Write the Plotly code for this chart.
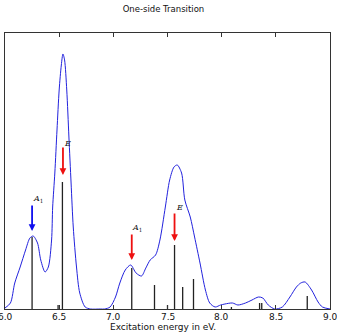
import plotly.graph_objects as go

# Broadened spectrum (energy in eV, intensity arb. units)
spec_e = [6.00, 6.05, 6.09, 6.14, 6.19, 6.23, 6.26, 6.30, 6.33, 6.37, 6.40, 6.43, 6.44,
          6.46, 6.48, 6.50, 6.52, 6.535, 6.55, 6.57, 6.59, 6.61, 6.63, 6.66, 6.69, 6.74,
          6.79, 6.88, 6.92, 6.97, 7.02, 7.06, 7.11, 7.16, 7.21, 7.26, 7.30, 7.34, 7.39,
          7.43, 7.48, 7.52, 7.56, 7.59, 7.63, 7.66, 7.71, 7.75, 7.80, 7.85, 7.89, 7.94,
          7.99, 8.03, 8.10, 8.15, 8.22, 8.28, 8.34, 8.38, 8.43, 8.49, 8.56, 8.63, 8.69,
          8.73, 8.77, 8.83, 8.89, 8.93, 9.00]
spec_i = [1, 6, 26, 42, 59, 71, 73, 66, 49, 37, 42, 69, 102,
          136, 179, 219, 244, 255, 249, 219, 172, 126, 82, 42, 16, 2,
          0, 0, 0, 2, 12, 26, 39, 44, 36, 33, 41, 49, 54,
          69, 102, 129, 142, 144, 136, 109, 92, 72, 46, 19, 6, 2,
          4, 5, 6, 4, 6, 9, 12, 11, 4, 0, 2, 12, 22,
          26, 27, 19, 7, 2, 0]

# Stick transitions
stick_e = [6.25, 6.49, 6.53, 7.17, 7.38, 7.50, 7.565, 7.64, 7.74, 8.09, 8.35, 8.37, 8.79]
stick_h = [72, 4, 127, 41, 24, 4, 64, 22, 30, 2, 6, 6, 13]

# Arrow annotations
arrow_e = [6.25, 6.535, 7.17, 7.565]
arrow_tail = [105, 163, 76, 97]
arrow_head = [78, 134, 49, 68]
arrow_color = ["#1010ee", "#ee1010", "#ee1010", "#ee1010"]
arrow_label = ["<i>A</i><sub>1</sub>", "<i>E</i>", "<i>A</i><sub>1</sub>", "<i>E</i>"]
label_e = [6.30, 6.577, 7.218, 7.611]
label_y = [110, 166, 81, 102]

xticks = [6.0, 6.5, 7.0, 7.5, 8.0, 8.5, 9.0]
xticklabels = ["6.0", "6.5", "7.0", "7.5", "8.0", "8.5", "9.0"]

sx, sy = [], []
for e, h in zip(stick_e, stick_h):
    sx += [e, e, None]
    sy += [0, h, None]

fig = go.Figure()
fig.add_trace(go.Scatter(x=sx, y=sy, mode="lines",
                         line=dict(color="#222222", width=1.3), hoverinfo="skip"))
fig.add_trace(go.Scatter(x=spec_e, y=spec_i, mode="lines",
                         line=dict(color="#2222dd", width=1, shape="spline", smoothing=0.8)))

for e, t, hd, c in zip(arrow_e, arrow_tail, arrow_head, arrow_color):
    fig.add_annotation(x=e, y=hd, ax=e, ay=t, xref="x", yref="y", axref="x", ayref="y",
                       text="", showarrow=True, arrowhead=2, arrowsize=0.75,
                       arrowwidth=1.8, arrowcolor=c)
for lab, le, ly in zip(arrow_label, label_e, label_y):
    fig.add_annotation(x=le, y=ly, xref="x", yref="y", text=lab, showarrow=False,
                       font=dict(family="DejaVu Serif", size=8, color="#111"))

# Tick labels placed just under the axis
for tv, tl in zip(xticks, xticklabels):
    fig.add_annotation(x=tv, y=0, xref="x", yref="paper", text=tl, showarrow=False,
                       yanchor="top", yshift=-1,
                       font=dict(family="DejaVu Sans", size=9, color="#111"))

# Axis title
fig.add_annotation(x=0.485, y=0, xref="paper", yref="paper", text="Excitation energy in eV.",
                   showarrow=False, yanchor="top", yshift=-11,
                   font=dict(family="DejaVu Sans", size=9, color="#111"))

fig.update_layout(
    width=337, height=336,
    margin=dict(l=5, r=7, t=33, b=27),
    paper_bgcolor="white", plot_bgcolor="white",
    showlegend=False,
    title=dict(text="One-side Transition", x=0.485, xanchor="center", y=0.972, yanchor="middle",
               font=dict(family="DejaVu Sans", size=8.5, color="#111")),
    font=dict(family="DejaVu Sans", size=9, color="#111"),
)
fig.update_xaxes(range=[6, 9], tickvals=xticks, showticklabels=False,
                 ticks="inside", ticklen=4, tickcolor="#333",
                 showline=True, linecolor="#333", linewidth=1, mirror="ticks",
                 showgrid=False, zeroline=False)
fig.update_yaxes(range=[0, 276], showticklabels=False, ticks="",
                 showline=True, linecolor="#333", linewidth=1, mirror=True,
                 showgrid=False, zeroline=False)

fig.write_html("out.html")
